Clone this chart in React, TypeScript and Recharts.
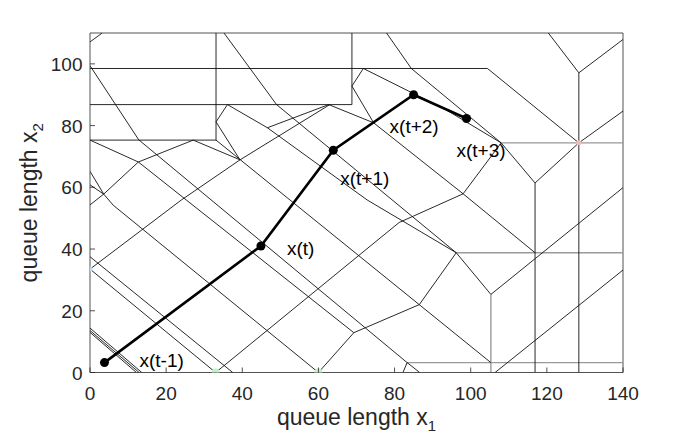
import React from "react";
import { LineChart, Line, XAxis, YAxis, ReferenceLine, LabelList } from "recharts";

type Pt = [number, number];

const xTicks = [0, 20, 40, 60, 80, 100, 120, 140];
const yTicks = [0, 20, 40, 60, 80, 100];

// closed-loop trajectory
const trajX1 = [3.8, 44.9, 63.9, 85.0, 98.9];
const trajX2 = [3.2, 41.0, 72.0, 90.0, 82.3];
const trajNames = ["x(t-1)", "x(t)", "x(t+1)", "x(t+2)", "x(t+3)"];

// region boundaries, polylines in (x1, x2)
const topEdges: Pt[][] = [
  [[0, 107.1], [3.2, 110]],
  [[0, 98.5], [104.4, 98.5]],
  [[0, 86.8], [68.8, 86.8], [68.8, 110]],
  [[0, 75.3], [33.1, 75.3], [33.1, 110]],
  [[68.8, 92.8], [71.8, 98.5]],
  [[68.8, 92.8], [74.5, 80.9]],
  [[71.8, 98.5], [93.4, 85.2], [108, 74.4]],
  [[77.9, 110], [84.4, 98.5], [108, 74.4]],
  [[104.4, 98.5], [128.4, 74.4]],
  [[120.4, 110], [128.4, 97.1], [140, 107.9]],
];

const leftEdges: Pt[][] = [
  [[0, 99.4], [12.8, 75.4], [83.3, 3.2]],
  [[0, 75.3], [12.7, 68.2], [27.1, 75.3], [39.4, 68.9]],
  [[0, 65.2], [3.6, 57.8]],
  [[0, 60.8], [3.6, 57.8]],
  [[0, 54.3], [3.6, 57.8]],
  [[3.6, 57.8], [12.7, 68.2], [69.3, 12.9]],
  [[3.6, 57.8], [6.1, 54.2], [60, 0]],
  [[0, 33.5], [24, 55.9], [39.4, 68.9], [63, 86.8]],
  [[0, 33.5], [33, 0]],
  [[0, 37.5], [37.5, 0]],
  [[0, 13.0], [12.2, 0]],
  [[0, 13.6], [12.9, 0]],
  [[0, 14.4], [13.6, 0]],
];

const middleEdges: Pt[][] = [
  [[33.1, 75.3], [105.3, 3.2]],
  [[33.1, 81.2], [39.4, 68.9]],
  [[33.1, 81.2], [36.1, 86.8], [46.6, 79.3], [72.8, 55.9], [96.2, 38.8]],
  [[46.6, 79.3], [62.7, 86.8], [74.5, 80.9], [98, 57.9], [116.9, 38.8]],
  [[35.2, 110], [49, 86.8], [96.2, 38.8], [105.3, 25.3]],
  [[33, 0], [81.2, 48.6], [98, 57.9], [108, 74.4], [116.9, 61.4], [128.4, 74.4], [140, 84.7]],
  [[60, 0], [69.3, 12.9], [86.5, 22], [96.2, 38.8]],
  [[82.2, 0], [83.3, 3.2], [86.6, 0]],
];

const rightEdges: Pt[][] = [
  [[116.9, 61.4], [116.9, 0]],
  [[128.4, 97.1], [128.4, 0]],
  [[105.3, 25.3], [140, 59.9]],
  [[106.4, 0], [140, 33.2]],
];

const grayEdges: Pt[][] = [
  [[83.3, 3.2], [140, 3.2]],
  [[96.2, 38.8], [140, 38.8]],
  [[108, 74.4], [140, 74.4]],
  [[105.3, 25.3], [105.3, 0]],
];

// tiny coloured regions where several boundaries meet
const greenSpots: Pt[] = [[33, 0], [60, 0]];
const blueSpots: Pt[] = [[0, 33.5]];
const pinkSpots: Pt[] = [[128.4, 74.4]];

const FONT = "'Liberation Sans', Arial, Helvetica, sans-serif";
const AXIS = "#262626";

// where each state label sits relative to its dot (px)
const labelOffset: Record<string, [number, number]> = {
  "x(t-1)": [35, -2],
  "x(t)": [26, 3],
  "x(t+1)": [7, 28],
  "x(t+2)": [-24, 32],
  "x(t+3)": [-10, 32],
};

const toRows = (seg: Pt[]) => seg.map(([x1, x2]) => ({ x1, x2 }));

const trajRows = trajX1.map((x1, i) => ({ x1, x2: trajX2[i], name: trajNames[i] }));

const XTick = ({ x, y, payload }: any) => (
  <g>
    <line x1={x} x2={x} y1={y} y2={y - 5} stroke={AXIS} strokeWidth={0.8} />
    <text x={x} y={y + 27} textAnchor="middle" fontSize={19} fill={AXIS} fontFamily={FONT}>
      {payload.value}
    </text>
  </g>
);

const YTick = ({ x, y, payload }: any) => (
  <g>
    <line x1={x} x2={x + 5} y1={y} y2={y} stroke={AXIS} strokeWidth={0.8} />
    <text x={x - 7.5} y={y + 7} textAnchor="end" fontSize={19} fill={AXIS} fontFamily={FONT}>
      {payload.value}
    </text>
  </g>
);

const XTitle = ({ viewBox }: any) => (
  <text
    x={viewBox.x + viewBox.width / 2}
    y={viewBox.y + 52}
    textAnchor="middle"
    fontSize={23}
    fill={AXIS}
    fontFamily={FONT}
  >
    queue length x
    <tspan fontSize={15} dy={6}>1</tspan>
  </text>
);

const YTitle = ({ viewBox }: any) => {
  const cx = 37;
  const cy = viewBox.y + viewBox.height / 2;
  return (
    <text
      x={cx}
      y={cy}
      transform={`rotate(-90 ${cx} ${cy})`}
      textAnchor="middle"
      fontSize={23}
      fill={AXIS}
      fontFamily={FONT}
    >
      queue length x
      <tspan fontSize={15} dy={6}>2</tspan>
    </text>
  );
};

const TrajLabel = (props: any) => {
  const { x, y, value } = props;
  const [dx, dy] = labelOffset[value] || [0, 0];
  return (
    <text
      x={x + dx}
      y={y + dy}
      dominantBaseline="central"
      fontSize={19}
      fill="#000"
      fontFamily={FONT}
    >
      {value}
    </text>
  );
};

const edgeLines = (groups: Pt[][], key: string, color: string, width: number) =>
  groups.map((seg, i) => (
    <Line
      key={`${key}-${i}`}
      data={toRows(seg)}
      dataKey="x2"
      type="linear"
      stroke={color}
      strokeWidth={width}
      dot={false}
      activeDot={false}
      isAnimationActive={false}
    />
  ));

const spots = (pts: Pt[], key: string, fill: string, r: number) => (
  <Line
    key={key}
    data={toRows(pts)}
    dataKey="x2"
    stroke="none"
    dot={{ r, fill, stroke: "none" }}
    activeDot={false}
    isAnimationActive={false}
  />
);

export default function App() {
  return (
    <div style={{ position: "fixed", left: 0, top: 0, background: "#fff" }}>
      <LineChart width={689} height={441} margin={{ top: 33, right: 66, bottom: 0, left: 0 }}>
        <XAxis
          type="number"
          dataKey="x1"
          domain={[0, 140]}
          ticks={xTicks}
          height={68.5}
          tickSize={0}
          tickMargin={0}
          tickLine={false}
          tick={<XTick />}
          axisLine={{ stroke: AXIS, strokeWidth: 0.8 }}
          allowDataOverflow
          label={<XTitle />}
        />
        <YAxis
          type="number"
          domain={[0, 110]}
          ticks={yTicks}
          width={90}
          tickSize={0}
          tickMargin={0}
          tickLine={false}
          tick={<YTick />}
          axisLine={{ stroke: AXIS, strokeWidth: 0.8 }}
          allowDataOverflow
          label={<YTitle />}
        />
        {spots(greenSpots, "green", "#bff3c6", 4)}
        {spots(blueSpots, "blue", "#bcd8f5", 2.5)}
        {spots(pinkSpots, "pink", "#f6b8b8", 2.5)}
        <ReferenceLine y={110} stroke={AXIS} strokeWidth={0.8} />
        <ReferenceLine x={140} stroke={AXIS} strokeWidth={0.8} />
        {edgeLines(grayEdges, "gray", "#9a9a9a", 1.4)}
        {edgeLines(topEdges, "top", "#111", 0.9)}
        {edgeLines(leftEdges, "left", "#111", 0.9)}
        {edgeLines(middleEdges, "mid", "#111", 0.9)}
        {edgeLines(rightEdges, "right", "#111", 0.9)}
        <Line
          data={trajRows}
          dataKey="x2"
          type="linear"
          stroke="#000"
          strokeWidth={2.6}
          dot={{ r: 4.5, fill: "#000", stroke: "#000", strokeWidth: 0 }}
          activeDot={false}
          isAnimationActive={false}
        >
          <LabelList dataKey="name" content={<TrajLabel />} />
        </Line>
      </LineChart>
    </div>
  );
}
